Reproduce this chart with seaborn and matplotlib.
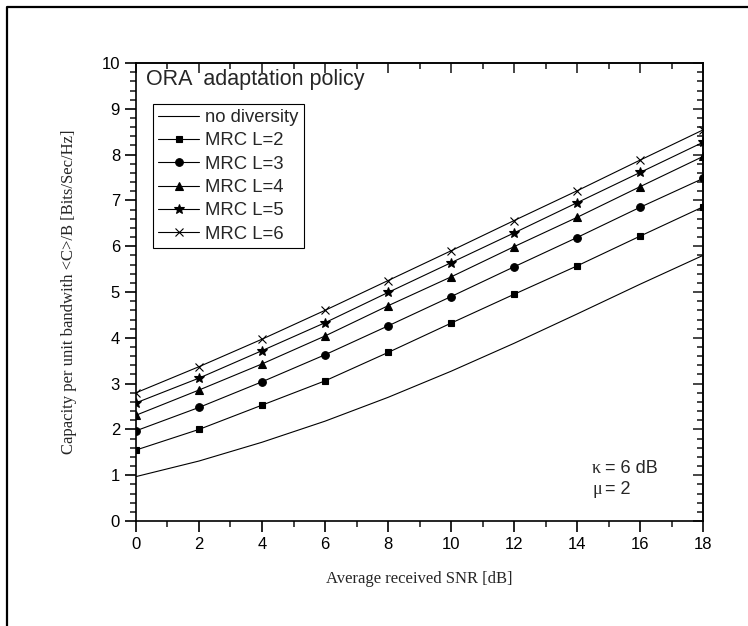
import matplotlib
matplotlib.use('Agg')
import numpy as np
import pandas as pd
import matplotlib.pyplot as plt
import seaborn as sns
from matplotlib.ticker import MultipleLocator
from matplotlib.lines import Line2D

# values
snr = [0, 2, 4, 6, 8, 10, 12, 14, 16, 18]
no_diversity = [0.97, 1.31, 1.72, 2.18, 2.70, 3.27, 3.88, 4.52, 5.17, 5.80]
mrc_l2 = [1.55, 2.00, 2.53, 3.06, 3.68, 4.32, 4.95, 5.57, 6.22, 6.86]
mrc_l3 = [1.97, 2.48, 3.04, 3.63, 4.26, 4.90, 5.55, 6.19, 6.85, 7.48]
mrc_l4 = [2.31, 2.86, 3.43, 4.04, 4.70, 5.33, 5.99, 6.63, 7.30, 7.96]
mrc_l5 = [2.58, 3.12, 3.72, 4.33, 4.99, 5.64, 6.29, 6.95, 7.61, 8.27]
mrc_l6 = [2.80, 3.37, 3.97, 4.60, 5.25, 5.90, 6.56, 7.21, 7.88, 8.54]

series_labels = ['no diversity', 'MRC L=2', 'MRC L=3', 'MRC L=4', 'MRC L=5', 'MRC L=6']
series_values = [no_diversity, mrc_l2, mrc_l3, mrc_l4, mrc_l5, mrc_l6]
markers = [None, 's', 'o', '^', '*', 'x']
marker_sizes = [0, 5, 5.5, 5.5, 7, 6]

sns.set_style('ticks')
plt.rcParams['font.family'] = ['Liberation Sans', 'DejaVu Sans']

fig = plt.figure(figsize=(7.48, 6.26), dpi=100)
ax = fig.add_axes([0.1818, 0.1677, 0.7581, 0.7316])

for lab, vals, m, ms in zip(series_labels, series_values, markers, marker_sizes):
    df = pd.DataFrame({'snr': snr, 'cap': vals})
    kw = dict(color='black', linewidth=0.8, label=lab)
    if m is not None:
        kw.update(marker=m, markersize=ms, markerfacecolor='black',
                  markeredgecolor='black', markeredgewidth=0.8)
    sns.lineplot(data=df, x='snr', y='cap', ax=ax, **kw)

ax.set_xlim(0, 18)
ax.set_ylim(0, 10)
ax.set_xticks(snr)
ax.set_yticks(range(0, 11))
ax.xaxis.set_minor_locator(MultipleLocator(1))
ax.yaxis.set_minor_locator(MultipleLocator(0.2))
ax.tick_params(which='major', direction='out', length=8, width=1.2,
               labelsize=12, colors='black', top=False, right=False)
ax.tick_params(which='minor', direction='out', length=4, width=1.2,
               top=False, right=False)
for sp in ax.spines.values():
    sp.set_linewidth(1.2)
    sp.set_color('black')

# top / right ticks point inward
secx = ax.secondary_xaxis('top')
secx.set_xticks(snr)
secx.xaxis.set_minor_locator(MultipleLocator(1))
secx.tick_params(which='major', direction='in', length=7, width=1.2, labeltop=False)
secx.tick_params(which='minor', direction='in', length=4, width=1.2)
secx.spines['top'].set_linewidth(1.2)
secy = ax.secondary_yaxis('right')
secy.set_yticks(range(0, 11))
secy.yaxis.set_minor_locator(MultipleLocator(0.2))
secy.tick_params(which='major', direction='in', length=7, width=1.2, labelright=False)
secy.tick_params(which='minor', direction='in', length=4, width=1.2)
secy.spines['right'].set_linewidth(1.2)

ax.set_xlabel('Average received SNR [dB]', family='Liberation Serif',
              fontsize=12, labelpad=14)
ax.set_ylabel('Capacity per unit bandwith <C>/B [Bits/Sec/Hz]',
              family='Liberation Serif', fontsize=12, labelpad=18)

ax.text(0.0176, 0.952, 'ORA  adaptation policy', transform=ax.transAxes,
        fontsize=15.5, ha='left', va='baseline')

leg = ax.legend(loc='upper left', bbox_to_anchor=(0.0295, 0.9105),
                frameon=True, fancybox=False, edgecolor='black', framealpha=1,
                fontsize=13.3, handlelength=2.25, labelspacing=0.34, borderpad=0.28,
                handletextpad=0.32, borderaxespad=0)
leg.get_frame().set_linewidth(0.8)

ax.text(14.48, 1.05, 'κ', family='Liberation Serif', fontsize=13, va='baseline')
ax.text(14.9, 1.05, '= 6 dB', fontsize=13, va='baseline')
ax.text(14.48, 0.6, 'μ', family='Liberation Serif', fontsize=13, va='baseline')
ax.text(14.9, 0.6, '= 2', fontsize=13, va='baseline')

# page frame (left and top edges)
fig.add_artist(Line2D([0.0094, 0.0094, 1.0], [0.0, 0.9888, 0.9888],
                      transform=fig.transFigure, color='black', linewidth=1.6))

fig.savefig('out.png', dpi=100)
